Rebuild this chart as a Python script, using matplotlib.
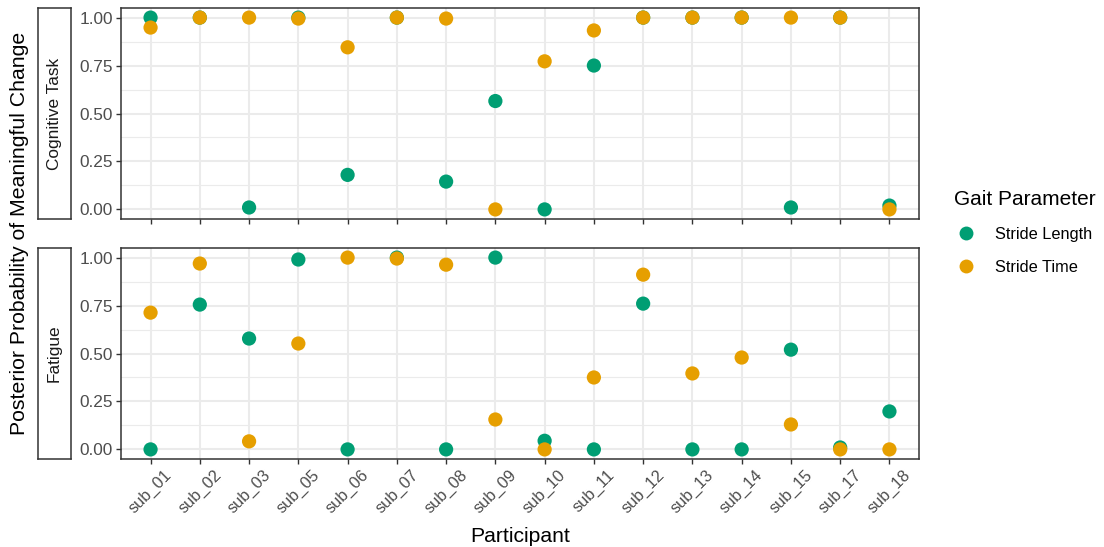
import matplotlib.pyplot as plt
from matplotlib.lines import Line2D
import numpy as np

plt.rcParams['font.family'] = ['Liberation Sans', 'DejaVu Sans']

participants = ['sub_01', 'sub_02', 'sub_03', 'sub_05', 'sub_06', 'sub_07', 'sub_08', 'sub_09',
                'sub_10', 'sub_11', 'sub_12', 'sub_13', 'sub_14', 'sub_15', 'sub_17', 'sub_18']
conditions = ['Cognitive Task', 'Fatigue']
parameters = ['Stride Length', 'Stride Time']

# posterior probabilities
cog_length = [1.00, 1.00, 0.01, 1.00, 0.18, 1.00, 0.145, 0.565, 0.00, 0.75, 1.00, 1.00, 1.00, 0.01, 1.00, 0.02]
cog_time = [0.948, 1.00, 1.00, 0.995, 0.845, 1.00, 0.995, 0.00, 0.772, 0.933, 1.00, 1.00, 1.00, 1.00, 1.00, 0.00]
fat_length = [0.00, 0.755, 0.578, 0.99, 0.00, 1.00, 0.00, 1.00, 0.045, 0.00, 0.76, 0.00, 0.00, 0.52, 0.01, 0.198]
fat_time = [0.713, 0.969, 0.042, 0.552, 1.00, 0.995, 0.963, 0.156, 0.00, 0.375, 0.911, 0.396, 0.479, 0.13, 0.00, 0.00]

data = {
    'Cognitive Task': [cog_length, cog_time],
    'Fatigue': [fat_length, fat_time],
}
colors = ['#009E73', '#E69F00']

W, H = 1104, 547
fig = plt.figure(figsize=(W / 100, H / 100), dpi=100)

def fx(px):
    return px / W

def fy(px):
    return 1 - px / H

panels = [(8, 219), (248, 459)]
x = np.arange(len(participants))
grid_col = '#EBEBEB'
border_col = '#333333'

for i, cond in enumerate(conditions):
    top, bot = panels[i]
    ax = fig.add_axes([fx(121), fy(bot), fx(919 - 121), (bot - top) / H])
    ax.set_xlim(-0.6, len(participants) - 0.4)
    ax.set_ylim(-0.05, 1.05)
    yt = [0, 0.25, 0.5, 0.75, 1.0]
    for v in np.arange(0.125, 1.0, 0.25):
        ax.axhline(v, color=grid_col, lw=0.8, zorder=0)
    for v in yt:
        ax.axhline(v, color=grid_col, lw=1.5, zorder=0)
    for v in x:
        ax.axvline(v, color=grid_col, lw=1.5, zorder=0)
    for vals, c in zip(data[cond], colors):
        ax.scatter(x, vals, s=105, color=c, edgecolors='none', zorder=3)
    ax.set_yticks(yt)
    ax.set_yticklabels(['0.00', '0.25', '0.50', '0.75', '1.00'])
    ax.set_xticks(x)
    if i == 1:
        ax.set_xticklabels(participants, rotation=45, ha='center', fontsize=11.8)
        ax.set_xlabel('Participant', fontsize=15.2, labelpad=8)
    else:
        ax.set_xticklabels([])
    ax.tick_params(axis='y', labelsize=12.4)
    ax.tick_params(axis='both', length=3.5, width=1.0, color=border_col,
                   labelcolor='#4D4D4D', pad=2.5)
    for sp in ax.spines.values():
        sp.set_color(border_col)
        sp.set_linewidth(1.1)

    # strip on the left
    sax = fig.add_axes([fx(38), fy(bot), fx(71 - 38), (bot - top) / H])
    sax.set_xticks([])
    sax.set_yticks([])
    for sp in sax.spines.values():
        sp.set_color(border_col)
        sp.set_linewidth(1.1)
    sax.text(0.5, 0.5, cond, rotation=90, ha='center', va='center',
             fontsize=12.4, color='#1A1A1A', transform=sax.transAxes)

fig.text(fx(20), fy(233), 'Posterior Probability of Meaningful Change', rotation=90,
         ha='center', va='center', fontsize=15.3)

handles = [Line2D([], [], marker='o', ls='none', markersize=10, color=c, markeredgewidth=0)
           for c in colors]
leg = fig.legend(handles, parameters, title='Gait Parameter', loc='upper left',
                 bbox_to_anchor=(fx(947), fy(183)), frameon=False, fontsize=11.8,
                 title_fontsize=15.0, labelspacing=1.1, handletextpad=1.0,
                 handlelength=1.5, borderaxespad=0)
leg._legend_box.align = 'left'

fig.savefig('out.png', dpi=100)
